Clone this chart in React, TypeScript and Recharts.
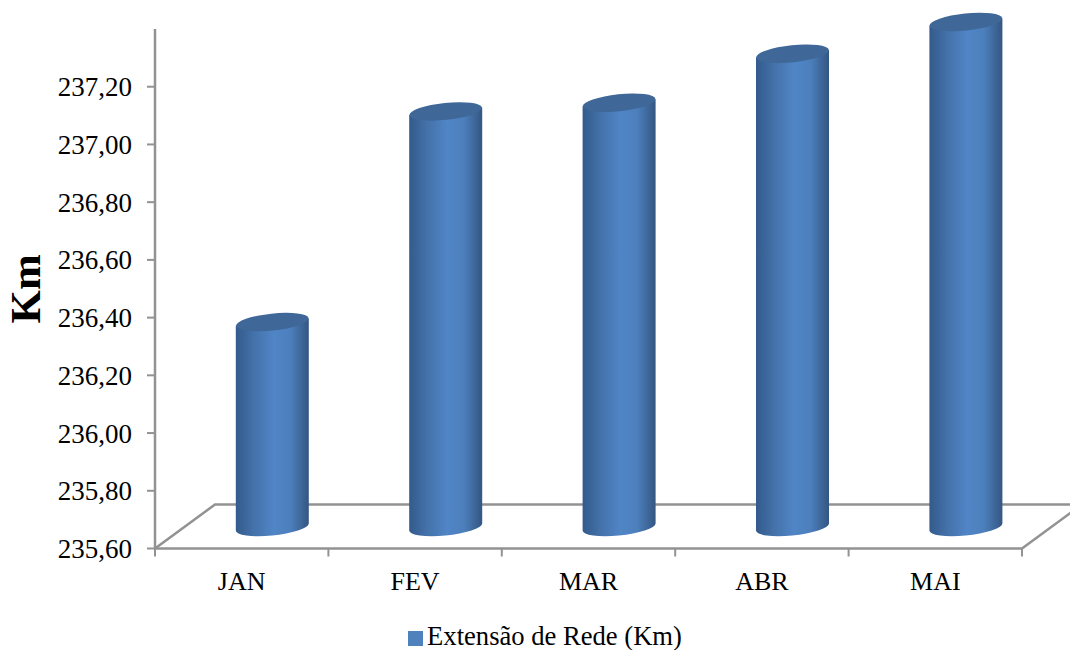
import { BarChart, Bar, XAxis, YAxis, Legend, usePlotArea } from "recharts";

const months = ["JAN", "FEV", "MAR", "ABR", "MAI"];
const extensao = [236.31, 237.04, 237.07, 237.24, 237.35];
const yTicks = [235.6, 235.8, 236.0, 236.2, 236.4, 236.6, 236.8, 237.0, 237.2];

const chartData = months.map((month, i) => ({ month, extensao: extensao[i] }));

const FONT = "'Liberation Serif', 'Times New Roman', serif";
const AXIS_COLOR = "#929292";
const DEPTH_X = 60;
const DEPTH_Y = 44;

// 3D floor plus the tick marks between categories (recharts puts its own on the centres)
function Floor() {
  const plot = usePlotArea();
  if (!plot) return null;
  const left = plot.x;
  const right = plot.x + plot.width;
  const bottom = plot.y + plot.height;
  const step = plot.width / months.length;
  return (
    <g fill="none" stroke={AXIS_COLOR}>
      <path
        d={`M${left} ${bottom} L${left + DEPTH_X} ${bottom - DEPTH_Y} L${right + DEPTH_X} ${bottom - DEPTH_Y} M${right} ${bottom} L${right + DEPTH_X} ${bottom - DEPTH_Y}`}
        strokeWidth={2.5}
      />
      {[...months, ""].map((_, i) => (
        <line key={i} x1={left + i * step} x2={left + i * step} y1={bottom} y2={bottom + 8} strokeWidth={2} />
      ))}
    </g>
  );
}

function Cylinder(props: any) {
  const { x, y, width, height } = props;
  const shiftX = 30.8;
  const shiftY = -21.5;
  const rx = width / 2;
  const ry = 8.5;
  const tilt = -6;
  const rise = 3.6;
  const lx = x + shiftX;
  const rX = lx + width;
  const top = y + shiftY;
  const base = y + height + shiftY;
  return (
    <g>
      <path
        d={`M${lx} ${top + rise} L${lx} ${base + rise} A${rx} ${ry} ${tilt} 0 0 ${rX} ${base - rise} L${rX} ${top - rise} Z`}
        fill="url(#cylinderBody)"
      />
      <ellipse
        cx={lx + rx}
        cy={top}
        rx={rx}
        ry={ry}
        transform={`rotate(${tilt} ${lx + rx} ${top})`}
        fill="#3f6797"
      />
    </g>
  );
}

export default function App() {
  return (
    <div style={{ position: "absolute", left: 0, top: 0, width: 1070, height: 650, background: "#fff", overflow: "hidden" }}>
      <BarChart
        width={1070}
        height={650}
        data={chartData}
        margin={{ top: 29, right: 48, bottom: 33.5, left: 0 }}
        barCategoryGap="20%"
      >
        <defs>
          <linearGradient id="cylinderBody" x1="0" y1="0" x2="1" y2="0">
            <stop offset="0%" stopColor="#335a8c" />
            <stop offset="25%" stopColor="#4472aa" />
            <stop offset="52%" stopColor="#5085c6" />
            <stop offset="75%" stopColor="#4c7fbc" />
            <stop offset="100%" stopColor="#345681" />
          </linearGradient>
        </defs>
        <Floor />
        <XAxis
          dataKey="month"
          height={40}
          tickLine={false}
          axisLine={{ stroke: AXIS_COLOR, strokeWidth: 2.5 }}
          tick={{ fill: "#000", fontSize: 26, fontFamily: FONT }}
          tickMargin={17}
        />
        <YAxis
          width={155}
          domain={[235.6, 237.4]}
          ticks={yTicks}
          interval={0}
          tickSize={8}
          tickMargin={15}
          axisLine={{ stroke: AXIS_COLOR, strokeWidth: 2.5 }}
          tickLine={{ stroke: AXIS_COLOR, strokeWidth: 2 }}
          tick={{ fill: "#000", fontSize: 27, fontFamily: FONT }}
          tickFormatter={(v: number) => v.toFixed(2).replace(".", ",")}
          label={{
            value: "Km",
            angle: -90,
            position: "insideLeft",
            offset: 0,
            dx: 25,
            style: { fontSize: 43, fontWeight: "bold", fontFamily: FONT, fill: "#000", textAnchor: "middle" },
          }}
        />
        <Legend
          verticalAlign="bottom"
          iconType="square"
          iconSize={15}
          wrapperStyle={{ fontFamily: FONT, fontSize: 26.6, lineHeight: "28px", color: "#000", bottom: 0, left: 39 }}
          formatter={(value: string) => <span style={{ color: "#000" }}>{value}</span>}
        />
        <Bar
          dataKey="extensao"
          name="Extensão de Rede (Km)"
          fill="#4f81bd"
          barSize={73}
          isAnimationActive={false}
          shape={<Cylinder />}
        />
      </BarChart>
    </div>
  );
}
